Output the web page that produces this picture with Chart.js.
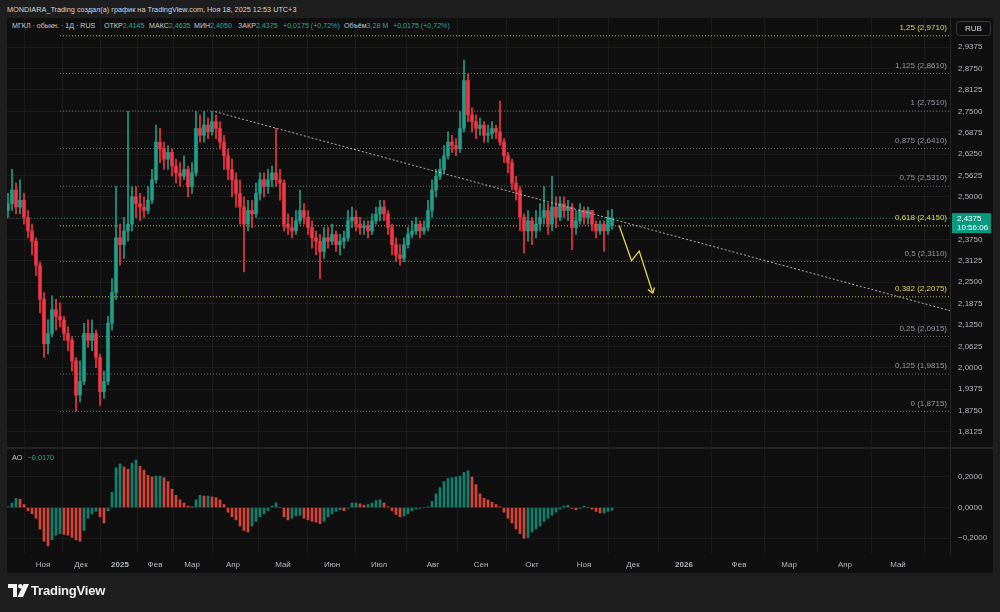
<!DOCTYPE html>
<html><head><meta charset="utf-8">
<script src="https://cdn.jsdelivr.net/npm/chart.js@4.4.1/dist/chart.umd.min.js"></script>
<style>
html,body{margin:0;padding:0}
body{width:1000px;height:612px;background:#1e1e1e;position:relative;overflow:hidden;font-family:"Liberation Sans",Arial,sans-serif;}
.abs{position:absolute;white-space:nowrap;line-height:10px}
#frame{position:absolute;left:7px;top:18px;width:986px;height:555px;background:#0f0f0f}
#title{left:7px;top:5px;font-size:7.3px;color:#d1d4dc}
.lg{top:21px;font-size:7.1px;color:#c8cbd3}
.tl{color:#22ab94}
#sep{position:absolute;left:7px;top:447px;width:986px;height:2px;background:#232323}
canvas{position:absolute}
#logo{position:absolute;left:8px;top:584px}
#logotext{left:31px;top:583px;font-size:13px;font-weight:bold;color:#f0f0f0;line-height:16px;letter-spacing:-0.2px}
</style></head><body>
<div id="frame"></div>
<div id="title" class="abs">MONDIARA_Trading создал(а) график на TradingView.com, Ноя 18, 2025 12:53 UTC+3</div>
<div class="abs lg" style="left:12px">МГКЛ · обыкн. · 1Д · RUS</div>
<div class="abs lg" style="left:104px">ОТКР<span class="tl">2,4145</span></div>
<div class="abs lg" style="left:149px">МАКС<span class="tl">2,4635</span></div>
<div class="abs lg" style="left:194px">МИН<span class="tl">2,4050</span></div>
<div class="abs lg" style="left:238px">ЗАКР<span class="tl">2,4375</span></div>
<div class="abs lg tl" style="left:283px">+0,0175 (+0,72%)</div>
<div class="abs lg" style="left:344px">Объём<span class="tl">3,28 M</span></div>
<div class="abs lg tl" style="left:393px">+0,0175 (+0,72%)</div>
<canvas id="pc" width="986" height="429" style="left:7px;top:18px"></canvas>
<div id="sep"></div>
<canvas id="ac" width="986" height="124" style="left:7px;top:449px"></canvas>
<div class="abs" style="left:12px;top:453px;font-size:7.3px;color:#c8cbd3">AO <span class="tl" style="margin-left:3px">−0,0170</span></div>
<svg id="logo" width="22" height="14" viewBox="0 0 22 14">
<path d="M0 0H9V13H5V4H0Z" fill="#f0f0f0"/>
<circle cx="12.3" cy="2.3" r="2.3" fill="#f0f0f0"/>
<path d="M15.5 0H21L15 13H9.5Z" fill="#f0f0f0"/>
</svg>
<div id="logotext" class="abs">TradingView</div>
<script>
// ---- data (bar index 0..151) ----
const opens = [
2.46,2.48,2.52,2.47,2.49,2.44,2.40,2.37,2.30,2.20,
2.07,2.10,2.17,2.15,2.14,2.10,2.08,2.02,1.92,1.96,
2.10,2.08,2.10,2.03,1.93,1.96,2.13,2.22,2.38,2.36,
2.40,2.42,2.50,2.48,2.47,2.46,2.49,2.55,2.66,2.64,
2.61,2.63,2.59,2.57,2.56,2.58,2.53,2.57,2.70,2.68,
2.71,2.69,2.72,2.70,2.66,2.62,2.58,2.55,2.51,2.47,
2.42,2.46,2.45,2.51,2.55,2.53,2.55,2.57,2.55,2.54,
2.42,2.41,2.40,2.43,2.46,2.44,2.41,2.38,2.37,2.34,
2.38,2.37,2.39,2.36,2.37,2.38,2.43,2.44,2.42,2.41,
2.415,2.40,2.43,2.45,2.47,2.45,2.41,2.36,2.33,2.32,
2.36,2.39,2.40,2.42,2.40,2.41,2.46,2.52,2.56,2.58,
2.62,2.66,2.65,2.64,2.70,2.84,2.74,2.72,2.70,2.71,
2.68,2.685,2.70,2.69,2.66,2.62,2.60,2.54,2.52,2.44,
2.40,2.43,2.40,2.42,2.44,2.46,2.42,2.47,2.44,2.48,
2.46,2.47,2.41,2.43,2.46,2.44,2.46,2.42,2.40,2.42,
2.40,2.4145];
const highs = [
2.51,2.58,2.54,2.55,2.51,2.46,2.42,2.38,2.31,2.22,
2.14,2.21,2.20,2.19,2.15,2.12,2.09,2.03,2.02,2.13,
2.14,2.14,2.11,2.04,1.99,2.15,2.26,2.53,2.42,2.44,
2.75,2.53,2.53,2.51,2.50,2.53,2.58,2.71,2.70,2.66,
2.65,2.64,2.61,2.60,2.62,2.59,2.60,2.75,2.74,2.75,
2.73,2.751,2.74,2.72,2.68,2.64,2.61,2.57,2.55,2.50,
2.49,2.49,2.54,2.57,2.57,2.58,2.59,2.70,2.58,2.55,
2.45,2.44,2.46,2.52,2.48,2.46,2.43,2.40,2.39,2.41,
2.41,2.42,2.40,2.39,2.40,2.46,2.47,2.46,2.44,2.43,
2.43,2.45,2.47,2.49,2.49,2.46,2.42,2.38,2.36,2.38,
2.41,2.43,2.44,2.43,2.43,2.49,2.55,2.58,2.61,2.65,
2.69,2.68,2.67,2.75,2.90,2.86,2.76,2.74,2.73,2.72,
2.71,2.72,2.71,2.78,2.67,2.63,2.61,2.56,2.53,2.45,
2.46,2.44,2.46,2.48,2.53,2.48,2.56,2.50,2.50,2.50,
2.49,2.48,2.46,2.48,2.47,2.47,2.46,2.43,2.43,2.43,
2.46,2.4635];
const lows = [
2.44,2.46,2.45,2.45,2.42,2.38,2.33,2.27,2.16,2.03,
2.04,2.09,2.11,2.12,2.08,2.05,1.99,1.8715,1.90,1.95,
2.06,2.05,2.00,1.89,1.91,1.95,2.11,2.20,2.30,2.32,
2.37,2.40,2.44,2.43,2.44,2.45,2.48,2.54,2.60,2.58,
2.58,2.56,2.54,2.53,2.55,2.50,2.51,2.56,2.66,2.66,
2.67,2.68,2.67,2.64,2.58,2.55,2.50,2.47,2.42,2.28,
2.40,2.41,2.44,2.49,2.50,2.51,2.53,2.53,2.49,2.40,
2.39,2.38,2.39,2.42,2.42,2.39,2.35,2.33,2.26,2.32,
2.35,2.36,2.34,2.33,2.35,2.37,2.41,2.40,2.39,2.39,
2.38,2.39,2.42,2.43,2.43,2.39,2.33,2.31,2.30,2.31,
2.35,2.38,2.39,2.38,2.39,2.40,2.44,2.50,2.55,2.57,
2.61,2.63,2.62,2.63,2.69,2.72,2.69,2.67,2.68,2.66,
2.66,2.67,2.67,2.65,2.60,2.57,2.52,2.49,2.40,2.335,
2.37,2.36,2.38,2.40,2.42,2.39,2.40,2.41,2.43,2.44,
2.43,2.345,2.39,2.42,2.42,2.42,2.40,2.38,2.39,2.34,
2.39,2.405];
const closes = [
2.48,2.52,2.47,2.49,2.44,2.40,2.37,2.30,2.20,2.07,
2.10,2.17,2.15,2.14,2.10,2.08,2.02,1.92,1.96,2.10,
2.08,2.10,2.03,1.93,1.96,2.13,2.22,2.38,2.36,2.40,
2.42,2.50,2.48,2.47,2.46,2.49,2.55,2.66,2.64,2.61,
2.63,2.59,2.57,2.56,2.58,2.53,2.57,2.70,2.68,2.71,
2.69,2.72,2.70,2.66,2.62,2.58,2.55,2.51,2.47,2.42,
2.46,2.45,2.51,2.55,2.53,2.55,2.57,2.55,2.54,2.42,
2.41,2.40,2.43,2.46,2.44,2.41,2.38,2.37,2.34,2.38,
2.37,2.39,2.36,2.37,2.38,2.43,2.44,2.42,2.41,2.415,
2.40,2.43,2.45,2.47,2.45,2.41,2.36,2.33,2.32,2.36,
2.39,2.40,2.42,2.40,2.41,2.46,2.52,2.56,2.58,2.62,
2.66,2.65,2.64,2.70,2.84,2.74,2.72,2.70,2.71,2.68,
2.685,2.70,2.69,2.66,2.62,2.60,2.54,2.52,2.44,2.40,
2.43,2.40,2.42,2.44,2.46,2.42,2.47,2.44,2.48,2.46,
2.47,2.41,2.43,2.46,2.44,2.46,2.42,2.40,2.42,2.40,
2.44,2.4375];
const aoValues = [
0.005,0.03,0.06,0.055,0.02,-0.02,-0.04,-0.07,-0.14,-0.22,
-0.25,-0.21,-0.18,-0.17,-0.175,-0.18,-0.195,-0.21,-0.22,-0.15,
-0.07,-0.04,-0.025,-0.06,-0.10,-0.02,0.10,0.26,0.285,0.265,
0.25,0.29,0.31,0.27,0.245,0.21,0.20,0.205,0.205,0.195,
0.17,0.12,0.08,0.05,0.03,0.01,0.005,0.05,0.08,0.075,
0.075,0.07,0.065,0.05,0.02,-0.03,-0.06,-0.08,-0.12,-0.15,
-0.16,-0.12,-0.09,-0.06,-0.04,-0.02,0.01,0.03,0.0,-0.06,
-0.08,-0.07,-0.055,-0.05,-0.07,-0.08,-0.09,-0.095,-0.105,-0.09,
-0.06,-0.04,-0.025,-0.015,-0.02,-0.005,0.03,0.03,0.025,0.015,
0.02,0.03,0.045,0.05,0.03,0.005,-0.02,-0.045,-0.06,-0.055,
-0.04,-0.02,-0.01,-0.005,0.0,0.005,0.04,0.09,0.13,0.17,
0.19,0.195,0.20,0.205,0.23,0.24,0.20,0.15,0.09,0.06,
0.05,0.035,0.02,0.005,-0.03,-0.07,-0.10,-0.14,-0.17,-0.20,
-0.195,-0.16,-0.14,-0.12,-0.09,-0.07,-0.05,-0.03,-0.01,0.01,
0.015,-0.005,-0.015,-0.005,0.01,0.0,-0.01,-0.025,-0.035,-0.035,
-0.025,-0.017];
const monthLabels = ['Ноя','Дек','2025','Фев','Мар','Апр','Май','Июн','Июл','Авг','Сен','Окт','Ноя','Дек','2026','Фев','Мар','Апр','Май'];
const monthPos = [8.75,18.25,28,36.75,46,56.25,68.75,81,92.75,106.25,118.25,131,144,156.25,169,182.75,195.25,209.25,222.5];
const priceTicks = [1.8125,1.875,1.9375,2.0,2.0625,2.125,2.1875,2.25,2.3125,2.375,2.4375,2.5,2.5625,2.625,2.6875,2.75,2.8125,2.875,2.9375];
const aoTicks = [-0.2,0,0.2];
const fibLevels = [1.25,1.125,1,0.875,0.75,0.618,0.5,0.382,0.25,0.125,0];
const fibPrices = [2.9710,2.8610,2.7510,2.6410,2.5310,2.4150,2.3110,2.2075,2.0915,1.9815,1.8715];
const fibHighlight = [true,false,false,false,false,true,false,true,false,false,false];
const fibStartX = 13, axisEndX = 235.5, axisStartX = -0.25;
const trendX = [51.75,235.5], trendY = [2.749,2.167];
const arrowX = [152.8,155.9,157.8,161.2], arrowY = [2.4155,2.313,2.341,2.2177];
const lastPrice = 2.4375, lastTime = '10:56:06';

// ---- styles ----
const UP='#1f9e89', DOWN='#f23645', AOUP='#12806f', AODN='#d4443a';
const YEL='#e6d34a', GRAYTXT='#9598a1', AXTXT='#b2b5be';
const FONT='"Liberation Sans", Arial, sans-serif';
Chart.defaults.font.family=FONT;
const fmt=v=>v.toFixed(4).replace('.',',');
const gridCol='rgba(255,255,255,0.05)';
const noPad=s=>{s.paddingTop=0;s.paddingBottom=0;s.paddingLeft=0;s.paddingRight=0;};

const candleCol = closes.map((c,i)=> c>=opens[i]?UP:DOWN);
const idx = closes.map((_,i)=>i);

const datasets = [
 {type:'bar',label:'wick',data:idx.map(i=>({x:i,y:[lows[i],highs[i]]})),backgroundColor:candleCol,barThickness:1,grouped:false,order:5},
 {type:'bar',label:'body',data:idx.map(i=>({x:i,y:[opens[i],closes[i]]})),backgroundColor:candleCol,barThickness:3,minBarLength:1,grouped:false,order:4},
];
fibPrices.forEach((p,k)=>{
 datasets.push({type:'line',data:[{x:fibStartX,y:p},{x:axisEndX,y:p}],borderColor:fibHighlight[k]?'rgba(230,211,74,0.85)':'rgba(150,152,160,0.7)',borderWidth:1,borderDash:[1,2],pointRadius:0,order:10});
});
datasets.push({type:'line',data:[{x:axisStartX,y:lastPrice},{x:axisEndX,y:lastPrice}],borderColor:'rgba(18,140,120,0.8)',borderWidth:1,borderDash:[1,2],pointRadius:0,order:9});
datasets.push({type:'line',data:trendX.map((v,i)=>({x:v,y:trendY[i]})),borderColor:'rgba(200,202,208,0.85)',borderWidth:1,borderDash:[2,2],pointRadius:0,order:2});
datasets.push({type:'line',data:arrowX.map((v,i)=>({x:v,y:arrowY[i]})),borderColor:YEL,borderWidth:1.3,pointRadius:0,tension:0,order:1});

const overlay={id:'overlay',
 afterDatasetsDraw(chart){
  const {ctx,scales:{x,y}}=chart;
  ctx.save();
  const n=arrowX.length;
  const x1=x.getPixelForValue(arrowX[n-2]),y1=y.getPixelForValue(arrowY[n-2]);
  const x2=x.getPixelForValue(arrowX[n-1]),y2=y.getPixelForValue(arrowY[n-1]);
  const a=Math.atan2(y2-y1,x2-x1);
  ctx.strokeStyle=YEL;ctx.lineWidth=1.3;ctx.beginPath();
  [-0.6,0.6].forEach(d=>{ctx.moveTo(x2,y2);ctx.lineTo(x2-6*Math.cos(a+d),y2-6*Math.sin(a+d));});
  ctx.stroke();
  ctx.font='8px '+FONT;ctx.textAlign='right';ctx.textBaseline='middle';
  fibLevels.forEach((lv,k)=>{
   const py=y.getPixelForValue(fibPrices[k]);
   ctx.fillStyle=fibHighlight[k]?YEL:GRAYTXT;
   ctx.fillText(String(lv).replace('.',',')+' ('+fmt(fibPrices[k])+')',x.right-3,py-8);
  });
  ctx.restore();
 },
 afterDraw(chart){
  const {ctx,scales:{y}}=chart;
  ctx.save();
  const py=y.getPixelForValue(lastPrice);
  ctx.fillStyle='#089981';
  ctx.fillRect(y.left+2,py-5,39,20);
  ctx.fillStyle='#ffffff';ctx.font='8px '+FONT;ctx.textAlign='left';ctx.textBaseline='middle';
  ctx.fillText(fmt(lastPrice),y.left+7,py+0.5);
  ctx.fillText(lastTime,y.left+7,py+9.5);
  ctx.strokeStyle='#3a3d45';ctx.lineWidth=1;
  ctx.beginPath();ctx.roundRect(y.left+6.5,3.5,34,14,3);ctx.stroke();
  ctx.fillStyle='#d1d4dc';ctx.textAlign='center';
  ctx.fillText('RUB',y.left+23.5,10.5);
  ctx.restore();
 }
};

new Chart(document.getElementById('pc'),{
 type:'bar',
 data:{datasets},
 options:{responsive:false,animation:false,devicePixelRatio:1,
  layout:{padding:0},
  plugins:{legend:{display:false},tooltip:{enabled:false}},
  scales:{
   x:{type:'linear',min:axisStartX,max:axisEndX,offset:false,
     afterBuildTicks:s=>{s.ticks=monthPos.map(v=>({value:v}));},
     afterFit:s=>{s.height=0;noPad(s);},
     grid:{color:gridCol,drawTicks:false},border:{display:false},ticks:{display:false}},
   y:{type:'linear',position:'right',min:1.768,max:3.0231,
     afterBuildTicks:s=>{s.ticks=priceTicks.map(v=>({value:v}));},
     afterFit:s=>{s.width=43;noPad(s);},
     grid:{color:gridCol,drawTicks:false},border:{display:true,color:'#262626'},
     ticks:{color:AXTXT,font:{size:8},padding:8,callback:v=>fmt(v)}}
  }
 },
 plugins:[overlay]
});

const aoCol = aoValues.map((v,i)=> (i===0||v>=aoValues[i-1])?AOUP:AODN);
new Chart(document.getElementById('ac'),{
 type:'bar',
 data:{datasets:[{data:idx.map(i=>({x:i,y:aoValues[i]})),backgroundColor:aoCol,barThickness:2,grouped:false}]},
 options:{responsive:false,animation:false,devicePixelRatio:1,
  layout:{padding:0},
  plugins:{legend:{display:false},tooltip:{enabled:false}},
  scales:{
   x:{type:'linear',min:axisStartX,max:axisEndX,offset:false,
     afterBuildTicks:s=>{s.ticks=monthPos.map(v=>({value:v}));},
     afterFit:s=>{s.height=20;noPad(s);},
     grid:{color:gridCol,drawTicks:false},border:{display:false},
     ticks:{color:AXTXT,padding:7,maxRotation:0,autoSkip:false,
       font:c=>({size:8,weight:(monthLabels[c.index]||'').match(/^\d/)?'bold':'normal'}),
       callback:(v,i)=>monthLabels[i]}},
   y:{type:'linear',position:'right',min:-0.2964,max:0.3823,
     afterBuildTicks:s=>{s.ticks=aoTicks.map(v=>({value:v}));},
     afterFit:s=>{s.width=43;noPad(s);},
     grid:{color:gridCol,drawTicks:false},border:{display:true,color:'#262626'},
     ticks:{color:AXTXT,font:{size:8},padding:8,callback:v=>(v<0?'\u2212':'')+fmt(Math.abs(v))}}
  }
 }
});
</script>
</body></html>
